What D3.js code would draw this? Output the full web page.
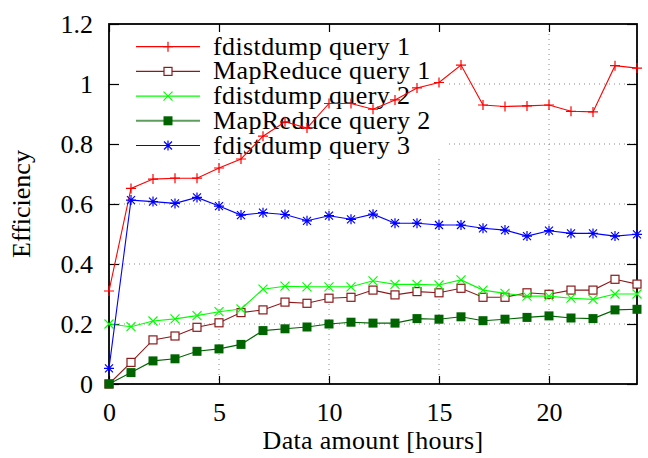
<!DOCTYPE html>
<html>
<head>
<meta charset="utf-8">
<script src="https://cdn.jsdelivr.net/npm/d3@7/dist/d3.min.js"></script>
<style>
  body { margin: 0; background: #fff; }
  svg text { font-family: "Liberation Serif", "Times New Roman", "DejaVu Serif", serif !important; fill: #000; }
</style>
</head>
<body>
<svg id="chart" width="648" height="458"></svg>
<script>
const hours = d3.range(0, 25)

const fdQuery1 = [0.31, 0.652, 0.683, 0.686, 0.686, 0.72, 0.75, 0.826, 0.874, 0.853, 0.935, 0.935, 0.916, 0.947, 0.987, 1.005, 1.063, 0.93, 0.925, 0.927, 0.93, 0.909, 0.907, 1.061, 1.053]
const mrQuery1 = [0, 0.072, 0.147, 0.16, 0.189, 0.204, 0.238, 0.247, 0.273, 0.269, 0.286, 0.289, 0.313, 0.297, 0.308, 0.304, 0.319, 0.289, 0.289, 0.304, 0.299, 0.313, 0.313, 0.349, 0.333]
const fdQuery2 = [0.2, 0.191, 0.21, 0.217, 0.228, 0.241, 0.25, 0.316, 0.326, 0.324, 0.324, 0.324, 0.344, 0.332, 0.332, 0.33, 0.347, 0.313, 0.302, 0.293, 0.293, 0.286, 0.282, 0.3, 0.3]
const mrQuery2 = [0, 0.038, 0.077, 0.084, 0.109, 0.117, 0.132, 0.178, 0.184, 0.19, 0.2, 0.206, 0.203, 0.203, 0.218, 0.216, 0.224, 0.211, 0.216, 0.222, 0.227, 0.22, 0.218, 0.247, 0.249]
const fdQuery3 = [0.052, 0.613, 0.608, 0.602, 0.622, 0.593, 0.563, 0.571, 0.565, 0.544, 0.561, 0.549, 0.566, 0.536, 0.536, 0.53, 0.53, 0.519, 0.513, 0.493, 0.511, 0.502, 0.502, 0.493, 0.499]

const xTicks = [0, 5, 10, 15, 20]
const yTicks = [0, 0.2, 0.4, 0.6, 0.8, 1, 1.2]

const series = [
    {name: 'fdistdump query 1', values: fdQuery1, color: '#ff0000', marker: 'plus'},
    {name: 'MapReduce query 1', values: mrQuery1, color: '#8b1a1a', marker: 'square'},
    {name: 'fdistdump query 2', values: fdQuery2, color: '#00ff00', marker: 'cross'},
    {name: 'MapReduce query 2', values: mrQuery2, color: '#006400', marker: 'filled', legendLine: '#5e9e5e'},
    {name: 'fdistdump query 3', values: fdQuery3, color: '#0000ff', marker: 'star'}
]

const FONT = 26
const margin = {left: 109, right: 11, top: 24, bottom: 74}
const width = 648 - margin.left - margin.right
const height = 458 - margin.top - margin.bottom

const svg = d3.select('#chart')
const g = svg.append('g').attr('transform', `translate(${margin.left},${margin.top})`)

const x = d3.scaleLinear().domain([0, 24]).range([0, width])
const y = d3.scaleLinear().domain([0, 1.2]).range([height, 0])

// grid
g.append('g').selectAll('line')
    .data(yTicks.filter((d) => d > 0 && d < 1.2))
    .enter().append('line')
    .attr('x1', 0).attr('x2', width)
    .attr('y1', (d) => y(d)).attr('y2', (d) => y(d))
    .attr('stroke', '#888').attr('stroke-width', 1).attr('stroke-dasharray', '1,4')
g.append('g').selectAll('line')
    .data(xTicks.filter((d) => d > 0))
    .enter().append('line')
    .attr('x1', (d) => x(d)).attr('x2', (d) => x(d))
    .attr('y1', 0).attr('y2', height)
    .attr('stroke', '#888').attr('stroke-width', 1).attr('stroke-dasharray', '1,4')

// legend box hides the grid behind it
g.append('rect')
    .attr('x', 1).attr('y', 1).attr('width', 337).attr('height', 134)
    .attr('fill', '#fff')

// axes with inward ticks on all four sides
const tick = 10
g.append('g')
    .attr('transform', `translate(0,${height})`)
    .call(d3.axisBottom(x).tickValues(xTicks).tickSizeInner(-8).tickSizeOuter(0).tickPadding(19).tickFormat(d3.format('d')))
g.append('g')
    .call(d3.axisTop(x).tickValues(xTicks).tickSizeInner(-8).tickSizeOuter(0).tickFormat(''))
g.append('g')
    .call(d3.axisLeft(y).tickValues(yTicks).tickSizeInner(-tick).tickSizeOuter(0).tickPadding(16).tickFormat((d) => d === 0 || d === 1 ? d3.format('d')(d) : d3.format('.1f')(d)))
g.append('g')
    .attr('transform', `translate(${width},0)`)
    .call(d3.axisRight(y).tickValues(yTicks).tickSizeInner(-tick).tickSizeOuter(0).tickFormat(''))

g.selectAll('.domain').remove()
g.selectAll('.tick line').attr('stroke', '#000').attr('stroke-width', 1.2)
g.selectAll('.tick text').attr('font-family', null).attr('font-size', null).style('font-size', FONT + 'px')

g.append('rect')
    .attr('width', width).attr('height', height)
    .attr('fill', 'none').attr('stroke', '#000').attr('stroke-width', 1.8)

// markers
function drawMarker(sel, type, color) {
    if (type === 'plus') {
        sel.append('path').attr('d', 'M-5,0H5M0,-5V5').attr('stroke', color).attr('stroke-width', 1.2).attr('fill', 'none')
    } else if (type === 'square') {
        sel.append('rect').attr('x', -4).attr('y', -4).attr('width', 8).attr('height', 8)
            .attr('fill', '#fff').attr('stroke', color).attr('stroke-width', 1.2)
    } else if (type === 'cross') {
        sel.append('path').attr('d', 'M-4.5,-4.5L4.5,4.5M-4.5,4.5L4.5,-4.5').attr('stroke', color).attr('stroke-width', 1.2).attr('fill', 'none')
    } else if (type === 'filled') {
        sel.append('rect').attr('x', -4.5).attr('y', -4.5).attr('width', 9).attr('height', 9).attr('fill', color)
    } else if (type === 'star') {
        sel.append('path').attr('d', 'M-5,0H5M0,-5V5M-4,-4L4,4M-4,4L4,-4').attr('stroke', color).attr('stroke-width', 1.2).attr('fill', 'none')
    }
}

// legend
const legend = g.append('g')
series.forEach((s, i) => {
    const ly = 22.7 + i * 24.7
    const row = legend.append('g').attr('transform', `translate(0,${ly})`)
    row.append('line')
        .attr('x1', 27).attr('x2', 91).attr('y1', 0).attr('y2', 0)
        .attr('stroke', s.legendLine || s.color).attr('stroke-width', s.legendLine ? 2 : 1.2)
    drawMarker(row.append('g').attr('transform', 'translate(59,0)'), s.marker, s.color)
    row.append('text')
        .attr('x', 104).attr('y', 8)
        .style('font-size', FONT + 'px')
        .style('letter-spacing', '0.4px')
        .text(s.name)
})

// data
const line = d3.line().x((d, i) => x(hours[i])).y((d) => y(d))
series.forEach((s) => {
    g.append('path')
        .datum(s.values)
        .attr('fill', 'none').attr('stroke', s.color).attr('stroke-width', 1.1)
        .attr('d', line)
    g.append('g').selectAll('g')
        .data(s.values)
        .enter().append('g')
        .attr('transform', (d, i) => `translate(${x(hours[i])},${y(d)})`)
        .each(function () { drawMarker(d3.select(this), s.marker, s.color) })
})

// axis titles
svg.append('text')
    .attr('x', margin.left + width / 2).attr('y', 449)
    .attr('text-anchor', 'middle')
    .style('font-size', FONT + 'px')
    .style('letter-spacing', '0.3px')
    .text('Data amount [hours]')
svg.append('text')
    .attr('transform', `translate(30,${margin.top + height / 2}) rotate(-90)`)
    .attr('text-anchor', 'middle')
    .style('font-size', FONT + 'px')
    .text('Efficiency')
</script>
</body>
</html>
